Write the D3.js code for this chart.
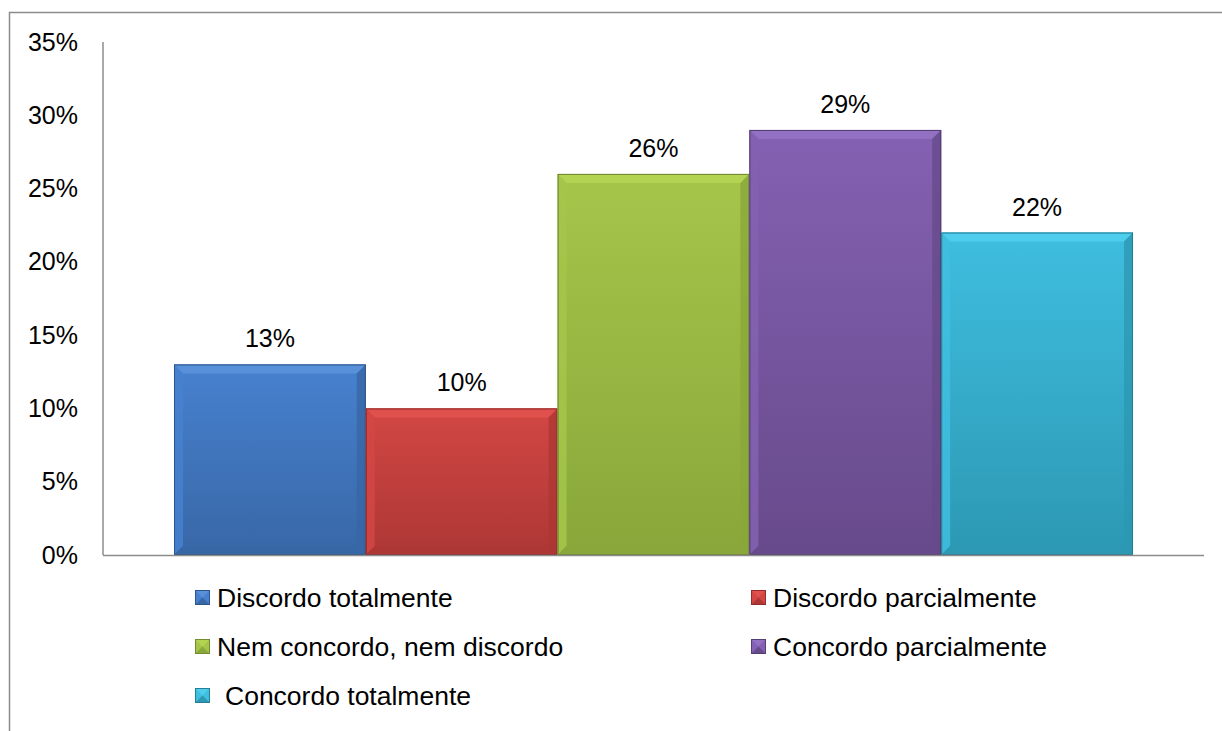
<!DOCTYPE html>
<html>
<head>
<meta charset="utf-8">
<style>
  body { margin: 0; background: #fff; }
  svg { display: block; }
</style>
</head>
<body>
<svg width="1222" height="731" font-family="'Liberation Sans', Arial, sans-serif" font-size="25"></svg>
<script src="https://d3js.org/d3.v7.min.js"></script>
<script>

var series = ["Discordo totalmente", "Discordo parcialmente", "Nem concordo, nem discordo", "Concordo parcialmente", "Concordo totalmente"];
var values = [13, 10, 26, 29, 22];
var yTicks = [0, 5, 10, 15, 20, 25, 30, 35];
var colors = [
  {top: "#5891da", mid: "#4781cf", bot: "#3867a6"},
  {top: "#e0504d", mid: "#d24744", bot: "#ad3735"},
  {top: "#b3d453", mid: "#a5c54a", bot: "#89a73a"},
  {top: "#9270c2", mid: "#8461b2", bot: "#674a8b"},
  {top: "#4fcdec", mid: "#3fbedf", bot: "#2c98b3"}
];

var svg = d3.select("svg");

// outer frame (runs off the right/bottom edge like the original)
svg.append("rect")
    .attr("x", 9.5).attr("y", 12.5)
    .attr("width", 1240).attr("height", 760)
    .attr("fill", "none").attr("stroke", "#8c8c8c").attr("stroke-width", 1.5);

var plotLeft = 103, plotRight = 1204, plotTop = 42, plotBottom = 555;

var y = d3.scaleLinear().domain([0, 35]).range([plotBottom, plotTop]);
var x = d3.scaleBand().domain(series).range([174, 1133]).padding(0);

var defs = svg.append("defs");
colors.forEach(function(c, i) {
  var g = defs.append("linearGradient").attr("id", "g" + i)
      .attr("x1", 0).attr("y1", 0).attr("x2", 0).attr("y2", 1);
  g.append("stop").attr("offset", "0%").attr("stop-color", c.mid);
  g.append("stop").attr("offset", "100%").attr("stop-color", c.bot);
});

// y axis
var yAxis = svg.append("g")
    .attr("transform", "translate(" + plotLeft + ",0)")
    .call(d3.axisLeft(y).tickValues(yTicks).tickSize(0).tickPadding(25)
      .tickFormat(function(d) { return d + "%"; }));
yAxis.select(".domain").attr("stroke", "#8c8c8c").attr("stroke-width", 1.5)
    .attr("d", "M0," + plotTop + "V" + plotBottom);
yAxis.selectAll("text").attr("font-size", 25).attr("fill", "#000")
    .attr("font-family", "'Liberation Sans', Arial, sans-serif");

// bars
var bev = 9;
var bar = svg.selectAll(".bar").data(values).enter().append("g").attr("class", "bar");

bar.each(function(v, i) {
  var g = d3.select(this);
  var x0 = x(series[i]), w = x.bandwidth(), y0 = y(v), h = plotBottom - y0;
  var c = colors[i];
  g.append("rect").attr("x", x0).attr("y", y0).attr("width", w).attr("height", h)
      .attr("fill", "url(#g" + i + ")");
  // top bevel
  g.append("path").attr("d", "M" + x0 + "," + y0 + "H" + (x0 + w) + "L" + (x0 + w - bev) + "," + (y0 + bev) + "H" + (x0 + bev) + "Z")
      .attr("fill", c.top);
  // left bevel
  g.append("path").attr("d", "M" + x0 + "," + y0 + "L" + (x0 + bev) + "," + (y0 + bev) + "V" + (plotBottom - bev) + "L" + x0 + "," + plotBottom + "Z")
      .attr("fill", c.mid).attr("opacity", 0.85);
  // right bevel
  g.append("path").attr("d", "M" + (x0 + w) + "," + y0 + "L" + (x0 + w - bev) + "," + (y0 + bev) + "V" + (plotBottom - bev) + "L" + (x0 + w) + "," + plotBottom + "Z")
      .attr("fill", c.bot).attr("opacity", 0.8);
  // bottom bevel
  g.append("path").attr("d", "M" + x0 + "," + plotBottom + "L" + (x0 + bev) + "," + (plotBottom - bev) + "H" + (x0 + w - bev) + "L" + (x0 + w) + "," + plotBottom + "Z")
      .attr("fill", c.bot);
  g.append("rect").attr("x", x0 + 0.5).attr("y", y0 + 0.5).attr("width", w - 1).attr("height", h - 1)
      .attr("fill", "none").attr("stroke", d3.color(c.bot).darker(0.6)).attr("stroke-width", 1);
  g.append("text").attr("x", x0 + w / 2).attr("y", y0 - 17)
      .attr("text-anchor", "middle").attr("fill", "#000").text(v + "%");
});

// x axis line
svg.append("line").attr("x1", plotLeft).attr("x2", plotRight).attr("y1", plotBottom + 0.5).attr("y2", plotBottom + 0.5)
    .attr("stroke", "#8c8c8c").attr("stroke-width", 1.5);

// legend
var legendPos = [[195, 607], [751, 607], [195, 656], [751, 656], [195, 705]];
var lg = svg.selectAll(".leg").data(series).enter().append("g").attr("class", "leg")
    .attr("transform", function(d, i) { return "translate(" + legendPos[i][0] + "," + legendPos[i][1] + ")"; });

lg.each(function(d, i) {
  var g = d3.select(this), c = colors[i], s = 15;
  var sy = -17;
  g.append("rect").attr("x", 0).attr("y", sy).attr("width", s).attr("height", s).attr("fill", c.mid);
  g.append("path").attr("d", "M0," + sy + "H" + s + "L" + (s / 2) + "," + (sy + s / 2) + "Z").attr("fill", c.top);
  g.append("path").attr("d", "M0," + (sy + s) + "H" + s + "L" + (s / 2) + "," + (sy + s / 2) + "Z").attr("fill", c.bot);
  g.append("rect").attr("x", 0.5).attr("y", sy + 0.5).attr("width", s - 1).attr("height", s - 1)
      .attr("fill", "none").attr("stroke", d3.color(c.bot).darker(0.5)).attr("stroke-width", 1);
  g.append("text").attr("x", i === 4 ? 30 : 22).attr("y", 0).attr("font-size", 26.5)
      .attr("fill", "#000").text(d);
});

</script>
</body>
</html>
